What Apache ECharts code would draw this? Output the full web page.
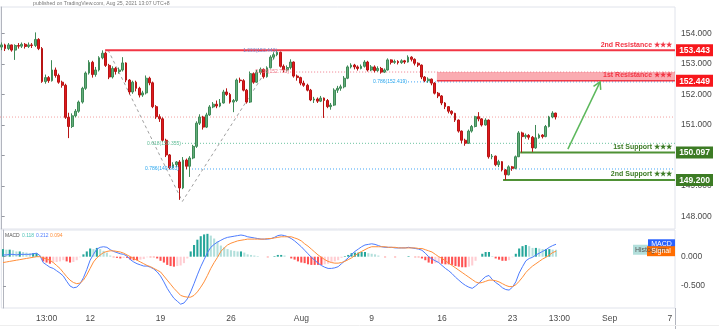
<!DOCTYPE html>
<html><head><meta charset="utf-8">
<script src="https://cdn.jsdelivr.net/npm/echarts@6/dist/echarts.min.js"></script>
<style>html,body{margin:0;padding:0;background:#fff}#chart{width:719px;height:329px}</style>
</head><body><div id="chart"></div>
<script>
// ---------------- DATA ----------------
const N_SLOTS = 201;            // bar slots on the time axis (data + future space)
const firstOpen = 153.55;
const closes = [
153.62,153.50,153.62,153.45,153.60,153.58,153.64,153.57,153.62,153.60,
153.80,153.50,152.42,152.55,152.45,152.80,152.62,152.40,152.30,151.25,
150.95,151.30,151.45,151.75,152.20,152.70,153.05,152.65,152.80,153.20,
153.35,152.95,152.57,152.85,152.75,152.80,153.03,152.47,152.08,152.40,
152.20,151.98,152.05,152.53,152.38,151.60,151.27,151.20,150.50,150.02,
149.60,149.70,149.79,148.94,149.85,149.65,149.92,150.30,151.06,151.26,
150.93,151.33,151.59,151.68,151.62,151.72,152.08,152.00,151.75,151.80,
152.47,152.45,152.14,151.75,152.68,152.40,152.72,152.82,152.58,152.87,
153.22,153.30,153.38,152.92,152.80,152.88,153.06,152.60,152.55,152.37,
152.30,152.14,151.82,151.85,151.78,151.88,151.80,151.60,151.65,152.14,
152.20,152.25,152.53,152.90,152.96,152.90,152.85,152.92,153.06,152.80,
152.90,152.78,152.85,152.73,152.80,153.13,153.05,153.08,153.04,153.10,
153.06,153.22,153.15,153.02,152.96,152.57,152.45,152.50,152.37,152.04,
151.95,151.72,151.60,151.45,151.38,151.16,150.80,150.50,150.40,150.80,
150.95,151.27,151.20,151.00,151.16,149.96,149.98,149.70,149.80,149.53,
149.37,149.63,149.58,149.96,150.74,150.62,150.66,150.60,150.25,150.58,
150.67,150.62,150.95,151.26,151.39,151.26];
const lows = [
153.45,153.42,153.45,153.40,153.13,153.50,153.52,153.50,153.52,153.52,
153.55,153.45,152.38,152.35,152.38,152.42,152.55,152.35,152.22,151.20,
150.57,150.90,151.25,151.40,151.70,152.15,152.65,152.55,152.58,152.75,
153.15,152.90,152.50,152.52,152.65,152.68,152.75,152.40,152.00,152.02,
152.10,151.90,151.92,152.00,152.30,151.55,151.20,151.10,150.45,149.95,
149.55,149.58,149.62,148.55,148.90,149.55,149.30,149.88,150.25,151.00,
150.85,150.90,151.30,151.55,151.55,151.58,151.70,151.95,151.70,151.42,
151.75,152.38,152.10,151.70,151.72,152.35,152.38,152.65,152.52,152.55,
152.85,153.15,153.25,152.88,152.72,152.75,152.82,152.55,152.45,152.30,
152.25,152.10,151.78,151.72,151.72,151.75,151.23,151.55,151.50,151.62,
152.05,152.12,152.20,152.50,152.85,152.82,152.78,152.82,152.88,152.75,
152.76,152.72,152.74,152.68,152.70,152.78,152.98,153.00,152.98,153.00,
153.00,153.04,153.08,152.95,152.90,152.50,152.40,152.38,152.30,152.00,
151.88,151.65,151.52,151.38,151.32,151.10,150.75,150.40,150.32,150.38,
150.75,150.92,151.12,150.95,150.98,149.90,149.88,149.65,149.62,149.48,
149.20,149.35,149.50,149.55,149.95,150.10,150.55,150.52,150.12,150.22,
150.55,150.56,150.60,150.92,151.22,151.18];
const highs = [
153.70,153.66,153.68,153.63,153.64,153.68,153.70,153.68,153.70,153.68,
154.03,153.84,153.55,152.65,152.60,153.12,152.88,152.68,152.45,152.35,
151.40,151.38,151.52,151.80,152.25,152.75,153.12,153.10,152.90,153.25,
153.443,153.40,153.00,152.92,152.90,152.88,153.22,153.05,152.50,152.45,
152.45,152.25,152.12,152.62,152.58,152.42,151.65,151.35,151.25,150.55,
150.05,149.78,149.82,149.85,149.95,149.90,149.98,150.35,151.12,151.35,
151.30,151.40,151.65,151.75,151.80,151.85,152.15,152.20,152.05,151.85,
152.52,152.55,152.50,152.18,152.75,152.72,152.80,152.88,152.85,152.92,
153.28,153.38,153.44,153.40,152.98,152.95,153.15,153.08,152.65,152.58,
152.45,152.35,152.18,151.92,151.90,151.95,151.90,151.85,151.72,152.20,
152.28,152.32,152.60,152.95,153.02,153.00,152.95,152.98,153.12,153.10,
152.96,152.95,152.92,152.90,152.85,153.18,153.15,153.14,153.12,153.15,
153.13,153.28,153.25,153.18,153.05,152.98,152.60,152.56,152.52,152.40,
152.08,151.98,151.75,151.62,151.48,151.40,151.18,150.82,150.55,150.85,
151.00,151.30,151.42,151.22,151.22,151.18,150.05,150.00,149.86,149.82,
149.56,149.68,149.66,150.00,150.80,150.78,150.72,150.70,150.64,151.00,
150.72,150.70,151.00,151.30,151.45,151.40];
const macdValues = [
0.03,0.03,0.04,0.04,0.03,0.04,0.04,0.04,0.04,0.05,
0.06,0.02,-0.10,-0.14,-0.18,-0.20,-0.24,-0.28,-0.33,-0.42,
-0.50,-0.53,-0.52,-0.46,-0.36,-0.22,-0.06,0.04,0.13,0.16,
0.17,0.16,0.12,0.09,0.07,0.05,0.04,0.01,-0.05,-0.09,
-0.12,-0.14,-0.16,-0.16,-0.18,-0.21,-0.26,-0.33,-0.43,-0.54,
-0.63,-0.71,-0.76,-0.81,-0.79,-0.72,-0.60,-0.46,-0.31,-0.17,
-0.05,0.07,0.16,0.21,0.25,0.28,0.31,0.33,0.34,0.35,
0.36,0.37,0.36,0.34,0.33,0.32,0.31,0.30,0.30,0.30,
0.31,0.33,0.36,0.37,0.36,0.34,0.31,0.27,0.22,0.17,
0.11,0.05,-0.01,-0.06,-0.11,-0.15,-0.18,-0.20,-0.20,-0.19,
-0.17,-0.12,-0.07,-0.02,0.04,0.09,0.13,0.17,0.20,0.21,
0.22,0.21,0.19,0.17,0.16,0.16,0.16,0.15,0.15,0.15,
0.15,0.16,0.15,0.14,0.13,0.11,0.06,0.00,-0.04,-0.07,
-0.10,-0.15,-0.20,-0.24,-0.29,-0.35,-0.40,-0.45,-0.49,-0.52,
-0.54,-0.50,-0.45,-0.39,-0.34,-0.32,-0.39,-0.44,-0.48,-0.53,
-0.56,-0.57,-0.52,-0.43,-0.28,-0.17,-0.07,-0.03,-0.01,0.03,
0.06,0.09,0.12,0.16,0.19,0.212];
const signalValues = [
-0.10,-0.09,-0.08,-0.07,-0.06,-0.05,-0.04,-0.03,-0.02,-0.01,
0.00,0.00,-0.02,-0.04,-0.06,-0.10,-0.15,-0.20,-0.27,-0.34,
-0.40,-0.44,-0.46,-0.45,-0.40,-0.31,-0.20,-0.09,-0.02,0.03,
0.07,0.09,0.10,0.10,0.09,0.08,0.06,0.03,0.00,-0.03,
-0.06,-0.09,-0.12,-0.15,-0.17,-0.20,-0.23,-0.26,-0.33,-0.40,
-0.47,-0.54,-0.60,-0.66,-0.68,-0.69,-0.69,-0.66,-0.60,-0.52,
-0.43,-0.32,-0.20,-0.10,-0.01,0.09,0.15,0.20,0.23,0.25,
0.27,0.28,0.29,0.30,0.30,0.30,0.30,0.30,0.30,0.31,
0.31,0.32,0.33,0.34,0.34,0.34,0.34,0.32,0.30,0.27,
0.22,0.18,0.13,0.08,0.03,-0.01,-0.05,-0.08,-0.10,-0.11,
-0.11,-0.10,-0.08,-0.05,-0.02,0.02,0.06,0.09,0.12,0.15,
0.17,0.17,0.17,0.17,0.17,0.16,0.16,0.16,0.15,0.15,
0.15,0.15,0.15,0.15,0.14,0.14,0.12,0.10,0.08,0.04,
0.00,-0.03,-0.07,-0.11,-0.15,-0.19,-0.23,-0.27,-0.31,-0.35,
-0.39,-0.43,-0.45,-0.44,-0.42,-0.40,-0.40,-0.41,-0.43,-0.46,
-0.49,-0.51,-0.51,-0.48,-0.42,-0.35,-0.27,-0.21,-0.16,-0.12,
-0.08,-0.04,-0.01,0.03,0.07,0.094];
const timeLabelIndex = [13, 26, 47, 68, 89, 110, 131, 152, 166, 181, 199];
const timeLabelText  = ['13:00','12','19','26','Aug','9','16','23','13:00','Sep','7'];
const priceTicks = [148, 149, 150, 151, 152, 153, 154];
const macdTicks = [0, -0.5];
// key levels: name, value, start bar index
const levelNames  = ['2nd Resistance ★★★','1st Resistance ★★★','1st Support ★★★','2nd Support ★★★'];
const levelValues = [153.443, 152.449, 150.097, 149.200];
const levelStarts = [30.8, 129.6, 154.4, 149.3];
const res1BandTop = 152.733;
// fibonacci drawing
const fibLabels = ['1.000(153.443)','0.236(152.733)','0.786(152.419)','0.618(150.355)','0.786(149.563)'];
const fibValues = [153.443, 152.733, 152.41, 150.40, 149.56];
const fibStarts = [82.3, 85.9, 121.0, 53.7, 53.1];
const fibVX = [31.7, 53.8, 82.3];
const fibVY = [153.45, 148.50, 153.39];
// projection arrow
const arrowX = [168.6, 178.2];
const arrowY = [150.21, 152.41];
const titleText = 'published on TradingView.com, Aug 25, 2021 13:07 UTC+8';

// ---------------- BUILD ----------------
const nBars = closes.length;
const cats = new Array(N_SLOTS).fill('');
timeLabelIndex.forEach((k, j) => { cats[k] = timeLabelText[j]; });
const ohlc = closes.map((c, i) => {
  const o = i === 0 ? firstOpen : closes[i - 1];
  return [o, c, Math.min(lows[i], o, c), Math.max(highs[i], o, c)];
});
const hist = macdValues.map((m, i) => +(m - signalValues[i]).toFixed(3));
const histData = hist.map((h, i) => {
  const p = i === 0 ? h : hist[i - 1];
  let col;
  if (h >= 0) col = h >= p ? '#26a69a' : '#b2dfdb';
  else col = h <= p ? '#ff5252' : '#ffcdd2';
  return { value: h, itemStyle: { color: col } };
});
const END = N_SLOTS - 0.5;
const RED = '#f23645', GREEN_LINE = '#4f9135', GREEN = '#3c7b24';
const lastClose = closes[nBars - 1];

function hline(v, start, color, width, type, extra) {
  return Object.assign({
    type: 'line', xAxisIndex: 2, yAxisIndex: 0, symbol: 'none', silent: true, z: 2,
    data: [[start, v], [END, v]],
    lineStyle: { color: color, width: width, type: type }
  }, extra || {});
}

const series = [
  {
    type: 'candlestick', xAxisIndex: 0, yAxisIndex: 0, z: 3, barWidth: '70%',
    data: ohlc,
    itemStyle: { color: '#63ad7a', color0: '#e0181d', borderColor: '#3f8a57', borderColor0: '#b81414', borderWidth: 1 }
  },
  hline(lastClose, -0.5, '#f3a0a0', 1, [1, 2]),
  hline(fibValues[1], fibStarts[1], '#ef7a8a', 1, [1, 2]),
  hline(fibValues[2], fibStarts[2], '#42a5f5', 1, [1, 2]),
  hline(fibValues[3], fibStarts[3], '#6cc3a0', 1, [1, 2]),
  hline(fibValues[4], fibStarts[4], '#42a5f5', 1, [1, 2]),
  {
    type: 'line', xAxisIndex: 2, yAxisIndex: 0, symbol: 'none', silent: true, z: 2,
    data: fibVX.map((x, i) => [x, fibVY[i]]),
    lineStyle: { color: '#a0a0a0', width: 1, type: [3, 3] }
  },
  hline(levelValues[0], levelStarts[0], RED, 2, 'solid'),
  hline(levelValues[1], levelStarts[1], RED, 1.5, 'solid', {
    markArea: { silent: true, itemStyle: { color: 'rgba(242,54,69,0.42)' },
      data: [[{ coord: [levelStarts[1], res1BandTop] }, { coord: [END, levelValues[1]] }]] }
  }),
  hline(levelValues[2], levelStarts[2], GREEN_LINE, 2, 'solid'),
  hline(levelValues[3], levelStarts[3], GREEN_LINE, 2, 'solid'),
  {
    type: 'line', xAxisIndex: 2, yAxisIndex: 0, symbol: 'none', silent: true, z: 4,
    data: arrowX.map((x, i) => [x, arrowY[i]]),
    lineStyle: { color: '#5cb85c', width: 1.5 }
  },
  {
    type: 'bar', xAxisIndex: 1, yAxisIndex: 1, barWidth: '62%', data: histData, silent: true
  },
  {
    type: 'line', xAxisIndex: 1, yAxisIndex: 1, symbol: 'none', silent: true, data: macdValues,
    lineStyle: { color: '#4d7cfe', width: 1 }, z: 3
  },
  {
    type: 'line', xAxisIndex: 1, yAxisIndex: 1, symbol: 'none', silent: true, data: signalValues,
    lineStyle: { color: '#ff8f3a', width: 1 }, z: 3
  }
];

const FONT = 'Liberation Sans, Arial, sans-serif';
const option = {
  animation: false,
  backgroundColor: '#ffffff',
  textStyle: { fontFamily: FONT },
  grid: [
    { left: 0, top: 7, width: 675, height: 222, show: true, borderColor: '#e0e3eb', borderWidth: 1 },
    { left: 0, top: 230, width: 675, height: 78, show: true, borderColor: '#e0e3eb', borderWidth: 1 }
  ],
  xAxis: [
    { type: 'category', gridIndex: 0, data: cats, boundaryGap: true,
      axisLine: { show: false }, axisTick: { show: false }, axisLabel: { show: false }, splitLine: { show: false } },
    { type: 'category', gridIndex: 1, data: cats, boundaryGap: true,
      axisLine: { show: false }, axisTick: { show: false },
      axisLabel: { show: true, interval: 0, fontSize: 8.5, color: '#4a4a4a', margin: 6, fontFamily: FONT },
      splitLine: { show: false } },
    { type: 'value', gridIndex: 0, min: -0.5, max: END, show: false, splitLine: { show: false } },
    { type: 'value', gridIndex: 1, min: -0.5, max: END, show: false, splitLine: { show: false } }
  ],
  yAxis: [
    { type: 'value', gridIndex: 0, position: 'right', min: 147.596, max: 154.861, scale: true,
      axisLine: { show: true, lineStyle: { color: '#b2b5be' } },
      axisTick: { show: true, length: 3, customValues: priceTicks, lineStyle: { color: '#9598a1' } },
      axisLabel: { customValues: priceTicks, formatter: v => Number(v).toFixed(3), fontSize: 8.5, color: '#4a4a4a', margin: 6, fontFamily: FONT },
      splitLine: { show: false } },
    { type: 'value', gridIndex: 1, position: 'right', min: -0.8754, max: 0.4556,
      axisLine: { show: true, lineStyle: { color: '#b2b5be' } },
      axisTick: { show: true, length: 3, customValues: macdTicks, lineStyle: { color: '#9598a1' } },
      axisLabel: { customValues: macdTicks, formatter: v => Number(v).toFixed(3), fontSize: 8.5, color: '#4a4a4a', margin: 6, fontFamily: FONT },
      splitLine: { show: false } }
  ],
  series: series
};

const chart = echarts.init(document.getElementById('chart'), null, { renderer: 'canvas' });
chart.setOption(option);

// ---------------- ANNOTATIONS (positioned through the axes) ----------------
const px = v => chart.convertToPixel({ xAxisIndex: 2 }, v);
const py = v => chart.convertToPixel({ yAxisIndex: 0 }, v);
const my = v => chart.convertToPixel({ yAxisIndex: 1 }, v);
const els = [];
function txt(x, y, s, fill, size, weight, align, valign) {
  els.push({ type: 'text', x: x, y: y, z: 100, silent: true,
    style: { text: s, fill: fill, fontSize: size, fontWeight: weight || 'normal', fontFamily: FONT,
      align: align || 'left', verticalAlign: valign || 'middle' } });
}
function box(x, y, w, h, fill) {
  els.push({ type: 'rect', z: 99, silent: true, shape: { x: x, y: y, width: w, height: h }, style: { fill: fill } });
}
// title
txt(33, 4, titleText, '#7a7a7a', 5.2);
// level labels + price tags
const levelColors = [RED, RED, GREEN, GREEN];
const tagColors = ['#f7171c', '#f7171c', '#3c7b24', '#3c7b24'];
levelValues.forEach((v, i) => {
  const y = py(v);
  txt(672, y - 5.5, levelNames[i], levelColors[i], 7, 'bold', 'right');
  box(676, y - 6, 37, 12, tagColors[i]);
  txt(694.5, y + 0.5, v.toFixed(3), '#ffffff', 8.5, 'bold', 'center');
});
// fib labels (right-aligned at their line start)
const fibColors = ['#7986cb', '#ef6f80', '#29a6ee', '#5dbb94', '#29a6ee'];
fibValues.forEach((v, i) => {
  txt(px(fibStarts[i]) - 1, py(v), fibLabels[i], fibColors[i], 5, 'normal', 'right');
});
// arrow head
(function () {
  const x1 = px(arrowX[0]), y1 = py(arrowY[0]), x2 = px(arrowX[1]), y2 = py(arrowY[1]);
  const ang = Math.atan2(y2 - y1, x2 - x1), L = 8, s = Math.PI / 6;
  els.push({ type: 'polyline', z: 100, silent: true,
    shape: { points: [[x2 - L * Math.cos(ang - s), y2 - L * Math.sin(ang - s)], [x2, y2],
                      [x2 - L * Math.cos(ang + s), y2 - L * Math.sin(ang + s)]] },
    style: { stroke: '#5cb85c', lineWidth: 1.5, fill: null } });
})();
// MACD legend
const lastM = macdValues[nBars - 1], lastS = signalValues[nBars - 1], lastH = hist[nBars - 1];
txt(5, 236, 'MACD', '#555555', 5);
txt(22, 236, lastH.toFixed(3), '#4fc3b8', 5);
txt(36, 236, lastM.toFixed(3), '#4d7cfe', 5);
txt(50, 236, lastS.toFixed(3), '#ff8f3a', 5);
// MACD value tags
box(633, my(lastH) - 5, 42, 10, '#b2dfdb');
txt(635, my(lastH), 'Histogram', '#555555', 7);
box(648, my(lastM) - 5, 27, 9, '#2962ff');
txt(661.5, my(lastM) - 0.5, 'MACD', '#ffffff', 7, 'normal', 'center');
box(647, my(lastS) - 5, 28, 10, '#ff6d00');
txt(661, my(lastS), 'Signal', '#ffffff', 7, 'normal', 'center');
// axis frame lines below the panes
els.push({ type: 'line', z: 100, silent: true, shape: { x1: 675.5, y1: 308, x2: 675.5, y2: 329 }, style: { stroke: '#b2b5be', lineWidth: 1 } });
els.push({ type: 'line', z: 100, silent: true, shape: { x1: 0, y1: 325.5, x2: 719, y2: 325.5 }, style: { stroke: '#eeeeee', lineWidth: 1 } });
chart.setOption({ graphic: els });
</script>
</body></html>
